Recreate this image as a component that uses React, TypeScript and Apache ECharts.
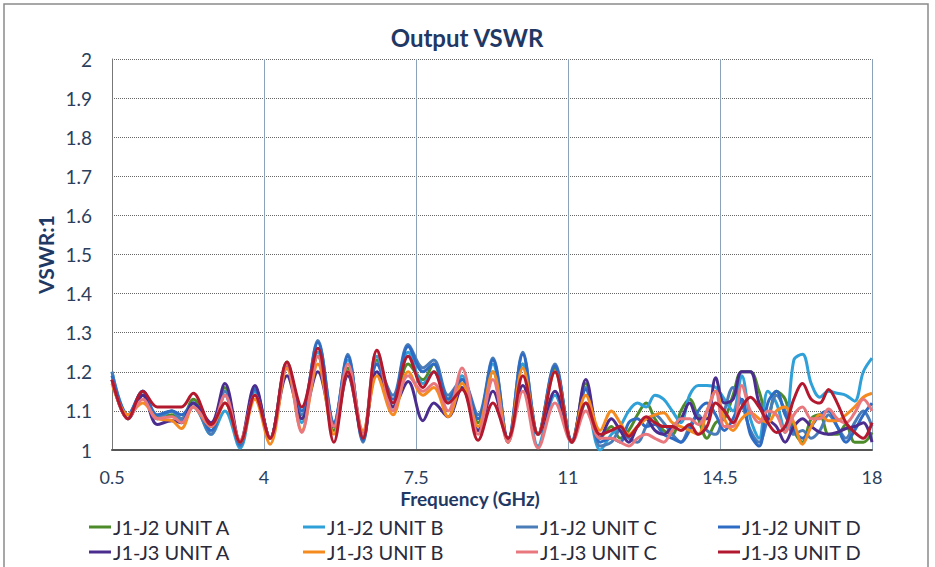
import React, { useEffect, useRef } from "react";
import * as echarts from "echarts";

// Frequency sample points (GHz)
const freqLow = [0.5, 0.87, 1.21, 1.54, 1.88, 2.1, 2.37, 2.78, 3.1, 3.45, 3.79, 4.14, 4.53, 4.87, 5.24, 5.61, 5.93, 6.28, 6.6, 6.97, 7.32, 7.66, 7.91, 8.24, 8.56, 8.93, 9.27, 9.62, 9.96, 10.31, 10.7, 11.09, 11.41, 11.74];
const freqHigh = [12.0, 12.2, 12.4, 12.6, 12.8, 13.0, 13.2, 13.4, 13.6, 13.8, 14.0, 14.2, 14.4, 14.6, 14.8, 15.0, 15.2, 15.4, 15.6, 15.8, 16.0, 16.2, 16.4, 16.6, 16.8, 17.0, 17.2, 17.4, 17.6, 17.8, 18.0];
const frequencies = [...freqLow, ...freqHigh];

const seriesNames = ["J1-J2 UNIT A", "J1-J2 UNIT B", "J1-J2 UNIT C", "J1-J2 UNIT D", "J1-J3 UNIT A", "J1-J3 UNIT B", "J1-J3 UNIT C", "J1-J3 UNIT D"];
const seriesColors = ["#4C8A2A", "#2FA0D8", "#4A7CB8", "#2E6CC4", "#4B2C8F", "#F58A1F", "#E8787E", "#B3192E"];

const j1j2UnitA = [1.18, 1.08, 1.14, 1.08, 1.09, 1.08, 1.13, 1.06, 1.16, 1.02, 1.15, 1.03, 1.225, 1.08, 1.24, 1.05, 1.21, 1.04, 1.23, 1.11, 1.22, 1.18, 1.22, 1.13, 1.18, 1.07, 1.2, 1.02, 1.22, 1.04, 1.21, 1.02, 1.17, 1.03,
  1.06, 1.03, 1.05, 1.09, 1.12, 1.08, 1.05, 1.04, 1.1, 1.13, 1.08, 1.03, 1.07, 1.08, 1.14, 1.2, 1.2, 1.15, 1.08, 1.15, 1.13, 1.05, 1.02, 1.08, 1.09, 1.04, 1.04, 1.065, 1.02, 1.02, 1.045];
const j1j2UnitB = [1.2, 1.09, 1.15, 1.08, 1.1, 1.075, 1.12, 1.04, 1.1, 1.005, 1.15, 1.03, 1.21, 1.07, 1.25, 1.07, 1.23, 1.03, 1.24, 1.12, 1.25, 1.17, 1.2, 1.12, 1.19, 1.05, 1.22, 1.02, 1.22, 1.01, 1.14, 1.02, 1.12, 1.0,
  1.04, 1.06, 1.1, 1.12, 1.11, 1.14, 1.13, 1.1, 1.07, 1.14, 1.165, 1.165, 1.16, 1.13, 1.1, 1.19, 1.08, 1.03, 1.15, 1.12, 1.045, 1.23, 1.245, 1.17, 1.135, 1.15, 1.145, 1.14, 1.125, 1.2, 1.235];
const j1j2UnitC = [1.2, 1.08, 1.15, 1.085, 1.1, 1.08, 1.11, 1.04, 1.15, 1.01, 1.16, 1.03, 1.22, 1.09, 1.28, 1.06, 1.245, 1.02, 1.22, 1.14, 1.27, 1.21, 1.23, 1.14, 1.18, 1.09, 1.235, 1.02, 1.25, 1.04, 1.22, 1.02, 1.16, 1.01,
  1.02, 1.05, 1.03, 1.02, 1.06, 1.09, 1.07, 1.04, 1.02, 1.06, 1.09, 1.05, 1.04, 1.1, 1.16, 1.12, 1.05, 1.02, 1.08, 1.14, 1.1, 1.04, 1.05, 1.03, 1.05, 1.09, 1.06, 1.03, 1.07, 1.1, 1.06];
const j1j2UnitD = [1.19, 1.09, 1.15, 1.09, 1.1, 1.09, 1.12, 1.05, 1.14, 1.015, 1.155, 1.03, 1.215, 1.1, 1.275, 1.07, 1.24, 1.025, 1.22, 1.13, 1.265, 1.2, 1.22, 1.13, 1.18, 1.08, 1.23, 1.025, 1.245, 1.04, 1.215, 1.025, 1.155, 1.02,
  1.03, 1.02, 1.07, 1.08, 1.06, 1.065, 1.04, 1.03, 1.02, 1.05, 1.1, 1.12, 1.09, 1.05, 1.08, 1.13, 1.04, 1.01, 1.12, 1.15, 1.09, 1.05, 1.03, 1.06, 1.09, 1.1, 1.06, 1.02, 1.05, 1.09, 1.12];
const j1j3UnitA = [1.18, 1.08, 1.14, 1.065, 1.075, 1.07, 1.12, 1.07, 1.17, 1.02, 1.165, 1.03, 1.19, 1.08, 1.2, 1.06, 1.19, 1.04, 1.2, 1.11, 1.175, 1.075, 1.12, 1.085, 1.16, 1.05, 1.15, 1.03, 1.165, 1.04, 1.15, 1.02, 1.18, 1.03,
  1.08, 1.05, 1.02, 1.06, 1.08, 1.05, 1.04, 1.06, 1.08, 1.12, 1.08, 1.08, 1.185, 1.12, 1.13, 1.2, 1.2, 1.12, 1.08, 1.06, 1.02, 1.06, 1.08, 1.06, 1.045, 1.04, 1.045, 1.055, 1.06, 1.07, 1.02];
const j1j3UnitB = [1.17, 1.09, 1.12, 1.08, 1.075, 1.055, 1.11, 1.06, 1.12, 1.02, 1.13, 1.015, 1.21, 1.05, 1.22, 1.04, 1.2, 1.05, 1.19, 1.09, 1.2, 1.14, 1.16, 1.085, 1.17, 1.06, 1.2, 1.02, 1.21, 1.04, 1.2, 1.02, 1.14, 1.05,
  1.1, 1.07, 1.04, 1.06, 1.08, 1.09, 1.095, 1.07, 1.06, 1.05, 1.04, 1.1, 1.15, 1.08, 1.05, 1.08, 1.095, 1.08, 1.07, 1.1, 1.11, 1.07, 1.015, 1.06, 1.09, 1.075, 1.075, 1.09, 1.11, 1.135, 1.145];
const j1j3UnitC = [1.18, 1.08, 1.13, 1.08, 1.085, 1.07, 1.11, 1.06, 1.14, 1.025, 1.14, 1.03, 1.22, 1.045, 1.24, 1.06, 1.22, 1.04, 1.255, 1.1, 1.19, 1.15, 1.17, 1.1, 1.21, 1.04, 1.18, 1.02, 1.15, 1.005, 1.12, 1.02, 1.1, 1.03,
  1.03, 1.02, 1.01, 1.03, 1.04, 1.03, 1.02, 1.05, 1.08, 1.08, 1.065, 1.1, 1.15, 1.06, 1.06, 1.165, 1.1, 1.07, 1.1, 1.09, 1.045, 1.09, 1.11, 1.08, 1.08, 1.105, 1.08, 1.07, 1.095, 1.13, 1.1];
const j1j3UnitD = [1.18, 1.08, 1.15, 1.11, 1.11, 1.11, 1.145, 1.065, 1.12, 1.02, 1.14, 1.03, 1.225, 1.11, 1.26, 1.02, 1.2, 1.03, 1.255, 1.12, 1.24, 1.16, 1.2, 1.12, 1.155, 1.025, 1.12, 1.03, 1.19, 1.04, 1.2, 1.02, 1.12, 1.04,
  1.05, 1.06, 1.035, 1.06, 1.085, 1.07, 1.06, 1.06, 1.05, 1.065, 1.04, 1.06, 1.12, 1.1, 1.07, 1.11, 1.135, 1.11, 1.07, 1.045, 1.06, 1.13, 1.17, 1.13, 1.12, 1.155, 1.12, 1.07, 1.045, 1.03, 1.07];

const seriesValues = [j1j2UnitA, j1j2UnitB, j1j2UnitC, j1j2UnitD, j1j3UnitA, j1j3UnitB, j1j3UnitC, j1j3UnitD];

const FONT = "Lato, 'Noto Sans', sans-serif";
const TEXT_BLUE = "#1F3864";
const LABEL_COLOR = "#2B3E5C";

export default function App() {
  const ref = useRef<HTMLDivElement>(null);
  useEffect(() => {
    document.body.style.margin = "0";
    if (!ref.current) return;
    const chart = echarts.init(ref.current, undefined, { renderer: "svg" });
    const legendLefts = [84, 298, 511, 713];
    chart.setOption({
      animation: false,
      backgroundColor: "#ffffff",
      textStyle: { fontFamily: FONT },
      title: {
        text: "Output VSWR",
        left: 462,
        top: 20,
        textAlign: "center",
        textStyle: { fontFamily: FONT, fontSize: 24, fontWeight: "bold", color: TEXT_BLUE },
      },
      graphic: [
        {
          type: "rect",
          shape: { x: 4, y: 4, width: 924, height: 600 },
          style: { fill: "none", stroke: "#8a8a8a", lineWidth: 1.5 },
          silent: true,
          z: -1,
        },
      ],
      legend: legendLefts.map((left, i) => ({
        data: [seriesNames[i], seriesNames[i + 4]],
        orient: "vertical",
        left,
        top: 512,
        itemGap: 5,
        itemWidth: 22,
        itemHeight: 3,
        icon: "rect",
        textStyle: { fontFamily: FONT, fontSize: 20, color: "#2a2a3a", padding: [0, 0, 0, -3] },
      })),
      grid: { left: 112, right: 63, top: 59, bottom: 117, containLabel: false },
      xAxis: {
        type: "value",
        min: 0.5,
        max: 18,
        interval: 3.5,
        name: "Frequency (GHz)",
        nameLocation: "middle",
        nameGap: 39,
        nameMoveOverlap: false,
        nameTextStyle: { fontFamily: FONT, fontSize: 19, fontWeight: "bold", color: TEXT_BLUE, padding: [0, 44, 0, 0] },
        axisLine: { show: true, lineStyle: { color: "#555", width: 2 } },
        axisTick: { show: false },
        axisLabel: { fontFamily: FONT, fontSize: 18, color: LABEL_COLOR, margin: 18 },
        splitLine: { show: true, lineStyle: { color: "#8aa3bb", width: 1, type: "solid" } },
      },
      yAxis: {
        type: "value",
        min: 1,
        max: 2,
        interval: 0.1,
        name: "VSWR:1",
        nameLocation: "middle",
        nameGap: 56,
        nameRotate: 90,
        nameMoveOverlap: false,
        nameTextStyle: { fontFamily: FONT, fontSize: 21, fontWeight: "bold", color: TEXT_BLUE },
        axisLine: { show: true, lineStyle: { color: "#777", width: 1 } },
        axisTick: { show: false },
        axisLabel: {
          fontFamily: FONT,
          fontSize: 19,
          color: LABEL_COLOR,
          margin: 20,
          formatter: (v: number) => String(Math.round(v * 10) / 10),
        },
        splitLine: { show: true, lineStyle: { color: "#666", width: 1, type: "dotted" } },
      },
      series: seriesNames.map((name, i) => ({
        name,
        type: "line",
        smooth: 0.35,
        symbol: "none",
        clip: true,
        color: seriesColors[i],
        lineStyle: { width: 3, color: seriesColors[i] },
        data: frequencies.map((f, k) => [f, seriesValues[i][k]]),
      })),
    });
    return () => chart.dispose();
  }, []);
  return <div ref={ref} style={{ width: 935, height: 567 }} />;
}
